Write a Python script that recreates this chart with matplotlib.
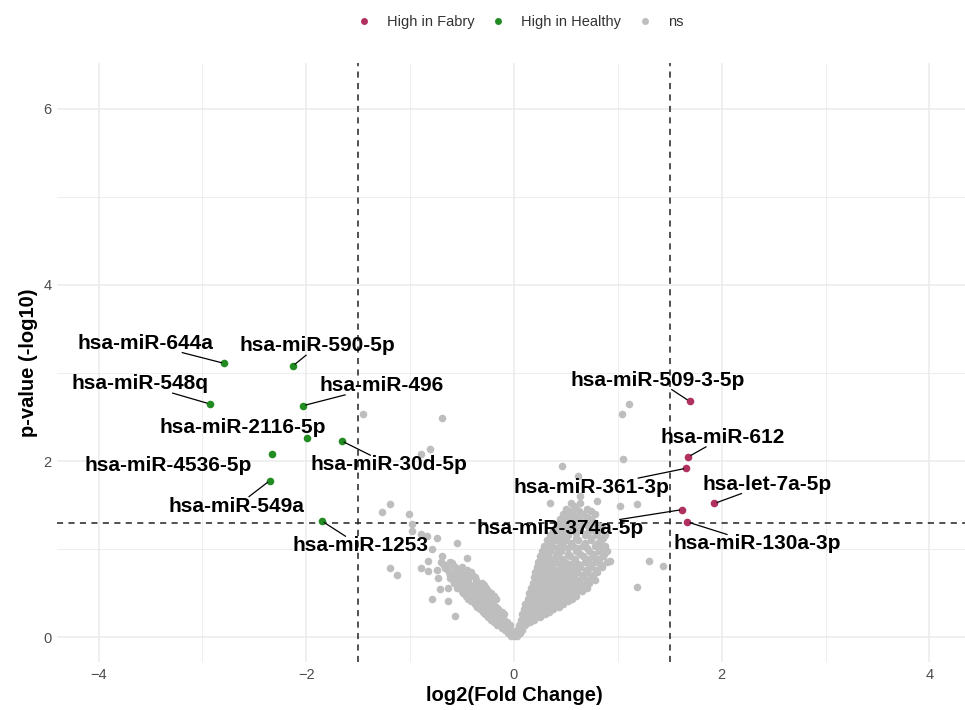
import math
import matplotlib.pyplot as plt
from matplotlib.lines import Line2D

plt.rcParams['font.family'] = ['Liberation Sans', 'DejaVu Sans']

# === 資料 ===
# High in Fabry
fabry_names = ['hsa-miR-509-3-5p', 'hsa-miR-612', 'hsa-miR-361-3p',
               'hsa-let-7a-5p', 'hsa-miR-374a-5p', 'hsa-miR-130a-3p']
fabry_fc = [1.69, 1.68, 1.66, 1.93, 1.62, 1.67]
fabry_p = [2.68, 2.05, 1.92, 1.52, 1.45, 1.31]

# High in Healthy
healthy_names = ['hsa-miR-644a', 'hsa-miR-590-5p', 'hsa-miR-548q', 'hsa-miR-496',
                 'hsa-miR-2116-5p', 'hsa-miR-30d-5p', 'hsa-miR-4536-5p',
                 'hsa-miR-549a', 'hsa-miR-1253']
healthy_fc = [-2.79, -2.13, -2.93, -2.03, -1.99, -1.66, -2.33, -2.35, -1.85]
healthy_p = [3.11, 3.08, 2.65, 2.63, 2.26, 2.23, 2.08, 1.78, 1.32]

# ns: scattered points
ns_sparse_fc = [-1.45, -0.69, -0.81, -0.90, 1.11, 1.04, 1.05, 0.46, 0.62, -1.19,
                -1.27, -1.01, -0.98, -0.98, -0.90, -0.84, -0.74, -0.55, -0.79, -0.69,
                -0.45, -0.83, -0.60, -1.19, -1.13, -0.90, -0.83, -0.74, -0.66, -0.45,
                -0.73, -0.62, -0.54, -0.44, -0.71, -0.64, -0.55, -0.79, -0.64, -0.57,
                1.30, 1.43, 1.18, 0.92, 0.85, 1.02, 1.18, 0.80, 0.64, 0.35]
ns_sparse_p = [2.53, 2.49, 2.14, 2.08, 2.65, 2.54, 2.03, 1.95, 1.83, 1.51,
               1.42, 1.40, 1.29, 1.21, 1.17, 1.15, 1.13, 1.07, 1.00, 0.92,
               0.90, 0.87, 0.84, 0.79, 0.71, 0.79, 0.75, 0.77, 0.79, 0.77,
               0.67, 0.67, 0.64, 0.67, 0.55, 0.56, 0.56, 0.43, 0.41, 0.24,
               0.87, 0.81, 0.57, 0.87, 1.26, 1.49, 1.51, 1.55, 1.61, 1.53]

# ns: dense volcano body, one row per p-value level
ns_row_p = [0.02, 0.08, 0.14, 0.20, 0.26, 0.32, 0.38, 0.44, 0.50, 0.56, 0.62, 0.68,
            0.74, 0.80, 0.86, 0.92, 0.98, 1.04, 1.10, 1.16, 1.22, 1.28, 1.34, 1.40,
            1.46, 1.52]
ns_row_fc = [
    [-0.03, 0.0, 0.03],
    [-0.09, -0.04, 0.03, 0.08],
    [-0.16, -0.10, -0.04, 0.05, 0.11],
    [-0.22, -0.16, -0.10, 0.07, 0.13, 0.19],
    [-0.28, -0.22, -0.16, -0.10, 0.08, 0.15, 0.22, 0.30],
    [-0.33, -0.27, -0.21, -0.15, 0.10, 0.17, 0.24, 0.31, 0.38],
    [-0.38, -0.32, -0.26, -0.20, 0.11, 0.18, 0.25, 0.32, 0.40, 0.47],
    [-0.44, -0.37, -0.30, -0.23, -0.17, 0.13, 0.20, 0.27, 0.34, 0.42, 0.50, 0.56],
    [-0.49, -0.42, -0.35, -0.28, -0.22, 0.14, 0.21, 0.28, 0.36, 0.44, 0.52, 0.60],
    [-0.52, -0.46, -0.40, -0.33, -0.27, 0.16, 0.23, 0.30, 0.38, 0.46, 0.54, 0.62, 0.70],
    [-0.58, -0.50, -0.44, -0.37, -0.31, 0.18, 0.25, 0.32, 0.40, 0.48, 0.56, 0.64, 0.72],
    [-0.60, -0.52, -0.45, -0.38, 0.19, 0.26, 0.34, 0.42, 0.50, 0.58, 0.66, 0.76],
    [-0.63, -0.56, -0.48, -0.41, 0.20, 0.28, 0.36, 0.44, 0.52, 0.61, 0.70, 0.80],
    [-0.66, -0.57, -0.50, 0.22, 0.29, 0.37, 0.46, 0.55, 0.64, 0.74, 0.85],
    [-0.70, -0.62, 0.23, 0.31, 0.40, 0.49, 0.58, 0.68, 0.78, 0.90],
    [0.25, 0.33, 0.42, 0.54, 0.66, 0.76, 0.86],
    [0.27, 0.35, 0.45, 0.60, 0.72, 0.82, 0.90],
    [0.29, 0.37, 0.47, 0.57, 0.66, 0.78, 0.88],
    [0.32, 0.40, 0.50, 0.62, 0.74, 0.84],
    [0.35, 0.43, 0.52, 0.68, 0.80, 0.88],
    [0.38, 0.46, 0.56, 0.64, 0.74, 0.84],
    [0.41, 0.50, 0.60, 0.70, 0.80],
    [0.44, 0.53, 0.63, 0.74],
    [0.47, 0.56, 0.66, 0.78],
    [0.50, 0.60, 0.70],
    [0.55, 0.64],
]
# in-between rows of the dense body
ns_row2_p = [0.05, 0.11, 0.17, 0.23, 0.29, 0.35, 0.41, 0.47, 0.53, 0.59, 0.65, 0.71,
             0.77, 0.83, 0.89, 0.95, 1.01, 1.07, 1.13, 1.19, 1.25, 1.31, 1.37, 1.43,
             1.49]
ns_row2_fc = [
    [-0.06, -0.01, 0.06],
    [-0.12, -0.07, 0.07],
    [-0.19, -0.13, -0.07, 0.09, 0.15],
    [-0.25, -0.19, -0.13, 0.11, 0.18, 0.25],
    [-0.30, -0.24, -0.18, -0.12, 0.13, 0.20, 0.27, 0.34],
    [-0.36, -0.29, -0.23, -0.17, 0.14, 0.21, 0.28, 0.36, 0.43],
    [-0.41, -0.34, -0.28, -0.21, 0.16, 0.23, 0.30, 0.37, 0.45, 0.52],
    [-0.46, -0.40, -0.33, -0.26, -0.19, 0.17, 0.24, 0.31, 0.39, 0.47, 0.55, 0.60],
    [-0.50, -0.44, -0.38, -0.31, -0.25, 0.19, 0.26, 0.33, 0.41, 0.49, 0.57, 0.65],
    [-0.55, -0.48, -0.42, -0.35, -0.29, 0.21, 0.28, 0.35, 0.44, 0.52, 0.60, 0.68],
    [-0.59, -0.51, -0.44, -0.37, 0.22, 0.29, 0.37, 0.45, 0.53, 0.61, 0.70, 0.78],
    [-0.62, -0.54, -0.46, -0.40, 0.24, 0.32, 0.40, 0.48, 0.56, 0.65, 0.74],
    [-0.64, -0.56, -0.49, 0.25, 0.33, 0.41, 0.50, 0.59, 0.69, 0.79],
    [-0.68, -0.60, 0.27, 0.35, 0.44, 0.53, 0.62, 0.72, 0.83],
    [0.28, 0.37, 0.47, 0.59, 0.71, 0.82],
    [0.31, 0.40, 0.52, 0.64, 0.77, 0.87],
    [0.32, 0.41, 0.52, 0.62, 0.70, 0.83],
    [0.35, 0.44, 0.55, 0.68, 0.81],
    [0.38, 0.47, 0.60, 0.74, 0.86],
    [0.40, 0.49, 0.60, 0.70, 0.79],
    [0.44, 0.53, 0.62, 0.72, 0.82],
    [0.47, 0.56, 0.66, 0.76],
    [0.50, 0.60, 0.70],
    [0.53, 0.63, 0.74],
    [0.58],
]

fc_cut = 1.5
p_cut = 1.30103  # -log10(0.05)

# 標籤位置（仿 ggrepel 的結果）
fabry_lab_xy = [(1.38, 2.92), (2.01, 2.27), (0.75, 1.70), (2.44, 1.74), (0.44, 1.23), (2.34, 1.06)]
fabry_seg = [True, True, True, True, True, True]
healthy_lab_xy = [(-3.55, 3.34), (-1.89, 3.31), (-3.60, 2.88), (-1.27, 2.86), (-2.61, 2.38),
                  (-1.20, 1.96), (-3.33, 1.95), (-2.67, 1.49), (-1.48, 1.04)]
healthy_seg = [True, True, True, True, False, True, False, True, True]

col_fabry = '#B03060'
col_healthy = '#228B22'
col_ns = '#BEBEBE'

# === 畫圖 ===
fig = plt.figure(figsize=(9.65, 7.1), dpi=100)
ax = fig.add_axes([57 / 965, 48 / 710, 914 / 965, 599 / 710])

ns_x = list(ns_sparse_fc)
ns_y = list(ns_sparse_p)
for p, row in zip(ns_row_p + ns_row2_p, ns_row_fc + ns_row2_fc):
    ns_x += row
    ns_y += [p] * len(row)

ax.scatter(ns_x, ns_y, s=30, color=col_ns, linewidths=0, zorder=3)
ax.scatter(healthy_fc, healthy_p, s=30, color=col_healthy, linewidths=0, zorder=4)
ax.scatter(fabry_fc, fabry_p, s=30, color=col_fabry, linewidths=0, zorder=4)

dash = (0, (4, 3.5))
ax.axvline(-fc_cut, color='#222222', lw=1.1, ls=dash, zorder=2)
ax.axvline(fc_cut, color='#222222', lw=1.1, ls=dash, zorder=2)
ax.axhline(p_cut, color='#222222', lw=1.1, ls=dash, zorder=2)

# ggplot theme_minimal 風格
ax.set_xlim(-4.4, 4.4)
ax.set_ylim(-0.28, 6.52)
ax.set_xticks([-4, -2, 0, 2, 4])
ax.set_yticks([0, 2, 4, 6])
ax.set_xticks([-3, -1, 1, 3], minor=True)
ax.set_yticks([1, 3, 5], minor=True)
ax.grid(which='major', color='#EBEBEB', lw=1.1, zorder=0)
ax.grid(which='minor', color='#EBEBEB', lw=0.6, zorder=0)
ax.set_axisbelow(True)
for s in ax.spines.values():
    s.set_visible(False)
ax.tick_params(which='both', length=0, labelsize=10.5, labelcolor='#4D4D4D', pad=4)
ax.set_xlabel('log2(Fold Change)', fontsize=14.5, fontweight='bold', labelpad=3)
ax.set_ylabel('p-value (-log10)', fontsize=14.5, fontweight='bold', labelpad=3.5)

# 文字標籤
names = fabry_names + healthy_names
pts = list(zip(fabry_fc + healthy_fc, fabry_p + healthy_p))
labs = fabry_lab_xy + healthy_lab_xy
segs = fabry_seg + healthy_seg
texts = []
for name, (lx, ly) in zip(names, labs):
    texts.append(ax.text(lx, ly, name, ha='center', va='center', fontsize=15,
                         fontweight='bold', color='black', zorder=5))

# 連接線：從標籤框邊緣指向點
fig.canvas.draw()
renderer = fig.canvas.get_renderer()
inv = ax.transData.inverted()
for t, (px, py), seg in zip(texts, pts, segs):
    if not seg:
        continue
    bb = t.get_window_extent(renderer)
    cx, cy = (bb.x0 + bb.x1) / 2, (bb.y0 + bb.y1) / 2
    ex, ey = ax.transData.transform((px, py))
    dx, dy = ex - cx, ey - cy
    k = min(bb.width / 2 / abs(dx) if dx else 1e9, bb.height / 2 / abs(dy) if dy else 1e9)
    sx, sy = cx + k * dx, cy + k * dy
    L = math.hypot(ex - sx, ey - sy)
    ex2, ey2 = ex - (ex - sx) / L * 3, ey - (ey - sy) / L * 3
    (x0, y0), (x1, y1) = inv.transform([(sx, sy), (ex2, ey2)])
    ax.add_line(Line2D([x0, x1], [y0, y1], color='black', lw=0.9, zorder=4))

handles = [Line2D([], [], ls='none', marker='o', ms=5, color=c, mec='none')
           for c in (col_fabry, col_healthy, col_ns)]
fig.legend(handles, ['High in Fabry', 'High in Healthy', 'ns'], loc='center',
           bbox_to_anchor=(520 / 965, 1 - 22 / 710), ncol=3, frameon=False,
           fontsize=10.5, labelcolor='#333333', handlelength=1.0,
           handletextpad=1.1, columnspacing=1.1)

fig.savefig('out.png', dpi=100)
